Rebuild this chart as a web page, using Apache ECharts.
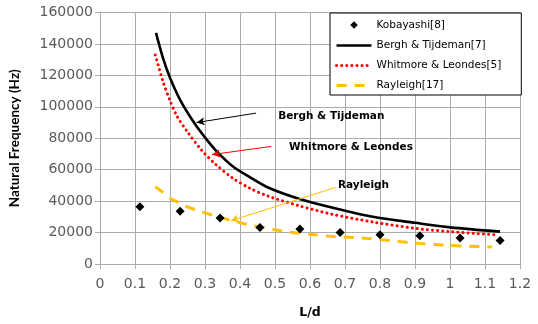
<!DOCTYPE html>
<html>
<head>
<meta charset="utf-8">
<script src="https://cdn.jsdelivr.net/npm/echarts@6/dist/echarts.min.js"></script>
<style>
  html, body { margin: 0; padding: 0; background: #fff; }
  #chart { width: 538px; height: 324px; }
</style>
</head>
<body>
<div id="chart"></div>
<script>
// Measured natural frequencies (Kobayashi) versus L/d
const kobayashiLd   = [0.114, 0.229, 0.343, 0.457, 0.571, 0.686, 0.800, 0.914, 1.029, 1.143];
const kobayashiFreq = [36500, 33500, 29300, 23300, 22200, 20000, 18600, 18000, 16500, 15000];

// Bergh & Tijdeman prediction
const berghLd   = [0.16, 0.18, 0.20, 0.23, 0.27, 0.30, 0.33, 0.38, 0.43, 0.48, 0.57, 0.66, 0.78, 0.90, 1.00, 1.143];
const berghFreq = [147000, 131000, 118500, 104000, 89500, 80500, 72500, 62000, 55000, 48700, 41400, 36100, 30000, 26200, 23300, 20600];

// Whitmore & Leondes prediction
const whitmoreLd   = [0.158, 0.18, 0.20, 0.22, 0.25, 0.29, 0.33, 0.38, 0.43, 0.48, 0.57, 0.66, 0.78, 0.90, 1.00, 1.135];
const whitmoreFreq = [133000, 116000, 104000, 94000, 84000, 72500, 63500, 54500, 48000, 43200, 37000, 31800, 26700, 22700, 20600, 18500];

// Rayleigh prediction
const rayleighLd   = [0.158, 0.18, 0.20, 0.23, 0.25, 0.28, 0.33, 0.38, 0.42, 0.50, 0.54, 0.62, 0.66, 0.76, 0.85, 0.90, 1.00, 1.12];
const rayleighFreq = [49200, 45500, 41800, 38500, 36300, 34000, 30500, 27500, 25200, 21800, 20200, 18500, 17600, 16300, 14400, 13300, 11800, 10800];

// Series names shown in the legend
const seriesNames = ['Kobayashi[8]', 'Bergh & Tijdeman[7]', 'Whitmore & Leondes[5]', 'Rayleigh[17]'];

// Callout labels: [text, label anchor (L/d, Hz), arrow start, arrow tip]
const callouts = [
  ['Bergh & Tijdeman',   [0.509, 93750], [0.446, 96000], [0.276, 90000]],
  ['Whitmore & Leondes', [0.540, 74000], [0.489, 74800], [0.320, 69600]],
  ['Rayleigh',           [0.680, 50000], [0.673, 48700], [0.374, 27500]]
];

const xAxisMin = 0, xAxisMax = 1.2, xAxisStep = 0.1;
const yAxisMin = 0, yAxisMax = 160000, yAxisStep = 20000;

const zip = (xs, ys) => xs.map((x, i) => [x, ys[i]]);

const colors = { exp: '#000000', bergh: '#000000', whitmore: '#FF0000', rayleigh: '#FFC000' };
const tickFont = 'DejaVu Sans';
const gridColor = '#ababab';

function callout(idx, color) {
  const c = callouts[idx];
  return {
    markLine: {
      silent: true,
      symbol: ['none', 'arrow'],
      symbolSize: [6, 8],
      label: { show: false },
      lineStyle: { color: color, width: 1, type: 'solid' },
      emphasis: { disabled: true },
      data: [[{ coord: c[2] }, { coord: c[3] }]]
    },
    markPoint: {
      silent: true,
      symbol: 'circle',
      symbolSize: 0,
      data: [{
        coord: c[1],
        label: {
          show: true, position: 'right', distance: 0,
          formatter: c[0], color: '#000',
          fontFamily: 'DejaVu Sans', fontWeight: 'bold', fontSize: 10.5
        }
      }]
    }
  };
}

// line-only legend entries: hide the marker drawn in the middle of the line
const lineLegendItem = (name, width) => ({
  name: name,
  itemStyle: { opacity: 0 },
  lineStyle: { width: width }
});

const chart = echarts.init(document.getElementById('chart'), null, { renderer: 'canvas' });

chart.setOption({
  animation: false,
  backgroundColor: '#fff',
  grid: { left: 95, right: 18, top: 12.5, bottom: 56, containLabel: false },
  legend: {
    orient: 'vertical',
    left: 330, top: 13,
    padding: [6, 20, 4, 5],
    itemGap: 9,
    itemWidth: 35, itemHeight: 12,
    backgroundColor: '#fff',
    borderColor: '#000', borderWidth: 1, borderRadius: 0,
    textStyle: { fontFamily: 'DejaVu Sans', fontSize: 10.5, color: '#000' },
    selectedMode: false,
    data: [
      { name: seriesNames[0], icon: 'path://M-1.6,-1.6M0,-1L1,0L0,1L-1,0ZM1.6,1.6' },
      lineLegendItem(seriesNames[1], 2.6),
      lineLegendItem(seriesNames[2], 3),
      lineLegendItem(seriesNames[3], 3)
    ]
  },
  xAxis: {
    type: 'value',
    min: xAxisMin, max: xAxisMax, interval: xAxisStep,
    name: 'L/d', nameLocation: 'middle', nameGap: 42,
    nameTextStyle: { fontFamily: 'DejaVu Sans', fontWeight: 'bold', fontSize: 12.5, color: '#000' },
    axisLine: { show: true, onZero: false, lineStyle: { color: gridColor, width: 1 } },
    axisTick: { show: true, length: 5, lineStyle: { color: gridColor } },
    axisLabel: {
      margin: 13, color: '#595959', fontFamily: tickFont, fontSize: 14,
      formatter: v => String(+v.toFixed(1))
    },
    splitLine: { show: true, lineStyle: { color: gridColor, width: 1 } }
  },
  yAxis: {
    type: 'value',
    min: yAxisMin, max: yAxisMax, interval: yAxisStep,
    name: 'Natural Frequency (Hz)', nameLocation: 'middle', nameGap: 78,
    nameTextStyle: { fontFamily: 'Lato', fontWeight: 'bold', fontSize: 13.5, color: '#000' },
    axisLine: { show: true, lineStyle: { color: gridColor, width: 1 } },
    axisTick: { show: true, length: 5, lineStyle: { color: gridColor } },
    axisLabel: {
      margin: 7, color: '#595959', fontFamily: tickFont, fontSize: 14,
      formatter: v => String(v)
    },
    splitLine: { show: true, lineStyle: { color: gridColor, width: 1 } }
  },
  series: [
    {
      name: seriesNames[0], type: 'scatter',
      data: zip(kobayashiLd, kobayashiFreq),
      symbol: 'diamond', symbolSize: 9,
      itemStyle: { color: colors.exp, opacity: 1 },
      z: 5
    },
    Object.assign({
      name: seriesNames[1], type: 'line',
      data: zip(berghLd, berghFreq),
      smooth: 0.3, symbol: 'none',
      lineStyle: { color: colors.bergh, width: 2.6 },
      itemStyle: { color: colors.bergh },
      z: 4
    }, callout(0, '#000')),
    Object.assign({
      name: seriesNames[2], type: 'line',
      data: zip(whitmoreLd, whitmoreFreq),
      smooth: 0.3, symbol: 'none',
      lineStyle: { color: colors.whitmore, width: 3, type: [0.1, 5], cap: 'round' },
      itemStyle: { color: colors.whitmore },
      z: 3
    }, callout(1, '#FF0000')),
    Object.assign({
      name: seriesNames[3], type: 'line',
      data: zip(rayleighLd, rayleighFreq),
      smooth: 0.3, symbol: 'none',
      lineStyle: { color: colors.rayleigh, width: 3, type: [10, 8] },
      itemStyle: { color: colors.rayleigh },
      z: 2
    }, callout(2, '#FFC000'))
  ]
});
</script>
</body>
</html>
